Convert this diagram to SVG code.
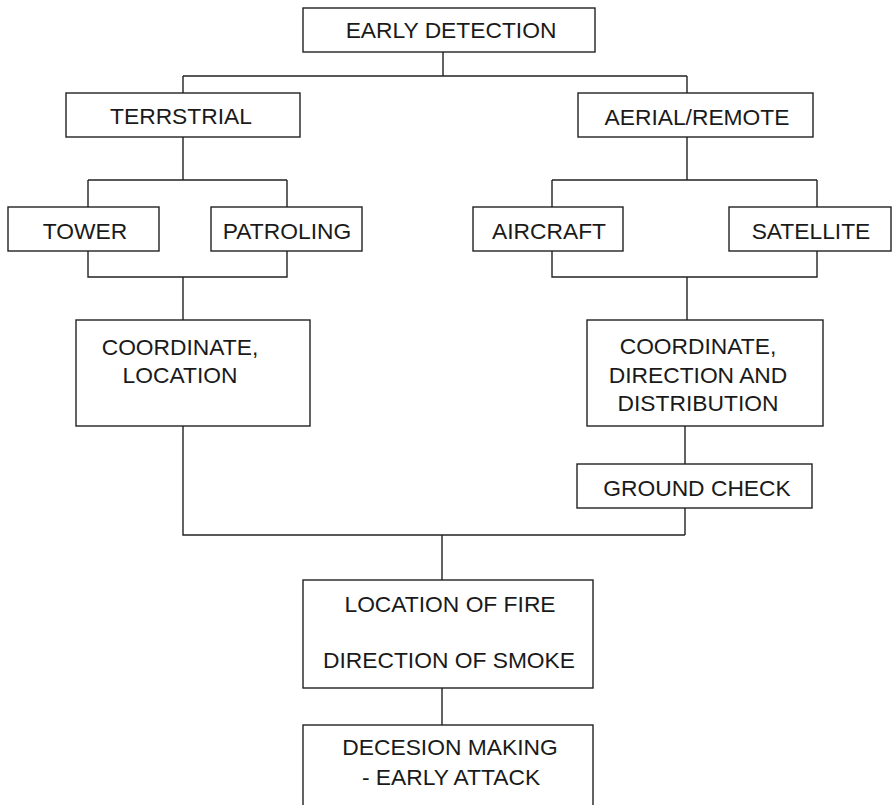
<svg xmlns="http://www.w3.org/2000/svg" width="894" height="805" viewBox="0 0 894 805">
<style>
.box{fill:#fff;stroke:#222;stroke-width:1.4}
.ln{fill:none;stroke:#222;stroke-width:1.4}
text{font-family:"Liberation Sans",Arial,sans-serif;font-size:22.8px;fill:#1a1a1a;text-anchor:middle}
</style>
<rect width="894" height="805" fill="#fff"/>
<g id="connectors" class="ln">
<path d="M443 52V76M183 76H687M183 76V93M687 76V93"/>
<path d="M183 137V180M88 180H287M88 180V207M287 180V207M88 251V277H287V251M183 277V320"/>
<path d="M687 137V180M552 180H817M552 180V207M817 180V207M552 251V277H817V251M687 277V320"/>
<path d="M685 426V464M685 508V535M183 426V535H685M442 535V580M442 688V725"/>
</g>
<g id="early-detection"><rect class="box" x="303" y="8" width="292" height="44"/><text x="451" y="38">EARLY DETECTION</text></g>
<g id="terrestrial"><rect class="box" x="66" y="93" width="234" height="44"/><text x="181" y="124">TERRSTRIAL</text></g>
<g id="aerial"><rect class="box" x="578" y="93" width="235" height="44"/><text x="697" y="125">AERIAL/REMOTE</text></g>
<g id="tower"><rect class="box" x="8" y="207" width="151" height="44"/><text x="85" y="239">TOWER</text></g>
<g id="patroling"><rect class="box" x="211" y="207" width="151" height="44"/><text x="287" y="239">PATROLING</text></g>
<g id="aircraft"><rect class="box" x="473" y="207" width="150" height="44"/><text x="549" y="239">AIRCRAFT</text></g>
<g id="satellite"><rect class="box" x="729" y="207" width="162" height="44"/><text x="811" y="239">SATELLITE</text></g>
<g id="coord-location"><rect class="box" x="76" y="320" width="234" height="106"/><text x="180" y="355">COORDINATE,</text><text x="180" y="383">LOCATION</text></g>
<g id="coord-direction"><rect class="box" x="587" y="320" width="236" height="106"/><text x="698" y="354">COORDINATE,</text><text x="698" y="383">DIRECTION AND</text><text x="698" y="411">DISTRIBUTION</text></g>
<g id="ground-check"><rect class="box" x="577" y="464" width="235" height="44"/><text x="697" y="496">GROUND CHECK</text></g>
<g id="location-fire"><rect class="box" x="303" y="580" width="290" height="108"/><text x="450" y="612">LOCATION OF FIRE</text><text x="449" y="668">DIRECTION OF SMOKE</text></g>
<g id="decision"><rect class="box" x="303" y="725" width="290" height="90"/><text x="450" y="755">DECESION MAKING</text><text x="451" y="785">- EARLY ATTACK</text></g>
</svg>
